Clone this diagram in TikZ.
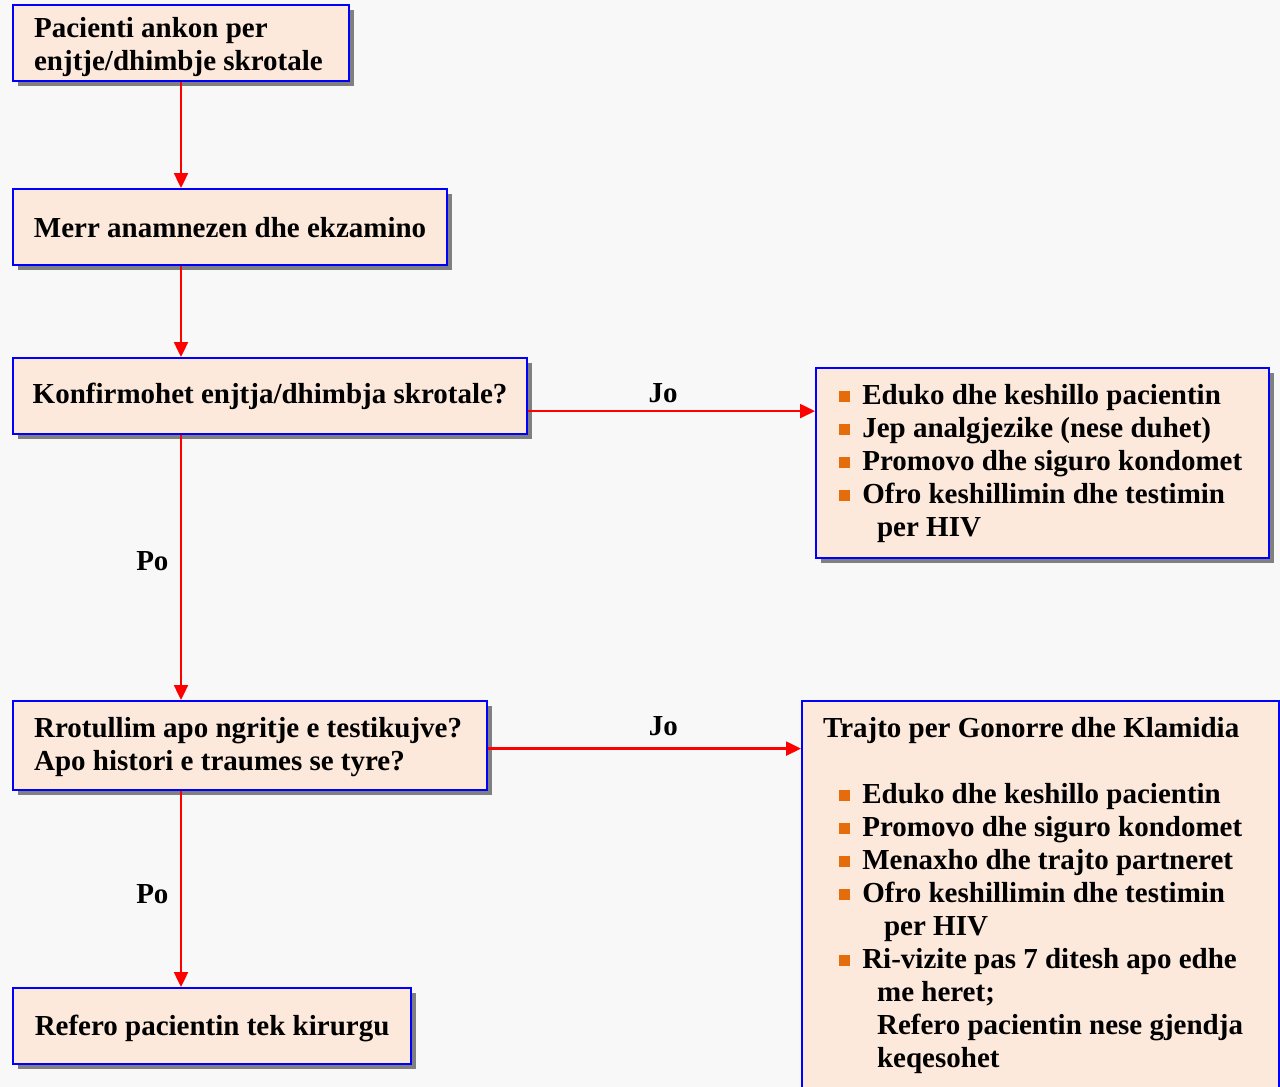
\documentclass[tikz,border=0pt]{standalone}
\usepackage{fontspec}
\setmainfont{Liberation Serif}
\usetikzlibrary{arrows.meta,shadows}
\definecolor{peach}{HTML}{FCE9DB}
\definecolor{bgray}{HTML}{F8F8F8}
\definecolor{bulorange}{HTML}{E46C0A}
\newcommand{\bul}{\textcolor{bulorange}{\rule[0.06em]{0.38em}{0.38em}}\hspace{0.42em}}

\tikzset{
  box/.style={draw=blue, line width=2.2pt, fill=peach, anchor=north west,
    drop shadow={shadow xshift=5pt, shadow yshift=-5pt, fill=gray, opacity=1},
    inner xsep=0pt, inner ysep=0pt, align=left,
    font=\fontsize{29}{33}\selectfont\bfseries},
  padbox/.style={inner xsep=21pt, align=flush left},
  arr/.style={red, line width=2.4pt, -{Triangle[length=15pt,width=14pt]}},
  lbl/.style={font=\fontsize{29}{33}\selectfont\bfseries, text=black},
}

\begin{document}
\begin{tikzpicture}[x=1pt, y=-1pt]
    \fill[bgray, use as bounding box] (0,0) rectangle (1280,1087);
    \coordinate (spine) at (181,0);

    % left column
    \node[box, padbox, text width=294pt, minimum height=76pt] (start) at (12,4)
        {\rule{0pt}{28pt}Pacienti ankon per\\enjtje/dhimbje skrotale};
    \node[box, minimum width=434pt, minimum height=76pt] (exam) at (12,188)
        {Merr anamnezen dhe ekzamino};
    \node[box, minimum width=514pt, minimum height=76pt] (confirm) at (12,357)
        {Konfirmohet enjtja/dhimbja skrotale?};
    \node[box, padbox, text width=432pt, minimum height=89pt] (torsion) at (12,700)
        {\rule{0pt}{24pt}Rrotullim apo ngritje e testikujve?\\Apo histori e traumes se tyre?};
    \node[box, minimum width=398pt, minimum height=76pt] (refer) at (12,987)
        {\rule{0pt}{26pt}Refero pacientin tek kirurgu};

    % right column
    \node[box, padbox, inner xsep=23pt, text width=407pt, minimum height=190pt] (advice) at (815,367)
        {\bul Eduko dhe keshillo pacientin\\
         \bul Jep analgjezike (nese duhet)\\
         \bul Promovo dhe siguro kondomet\\
         \bul Ofro keshillimin dhe testimin\\
         \hspace*{38pt}per HIV};
    \node[box, padbox, text width=435pt, inner ysep=16pt] (treat) at (801,700)
        {Trajto per Gonorre dhe Klamidia\\[33pt]
         \hspace*{16pt}\bul Eduko dhe keshillo pacientin\\
         \hspace*{16pt}\bul Promovo dhe siguro kondomet\\
         \hspace*{16pt}\bul Menaxho dhe trajto partneret\\
         \hspace*{16pt}\bul Ofro keshillimin dhe testimin\\
         \hspace*{61pt}per HIV\\
         \hspace*{16pt}\bul Ri-vizite pas 7 ditesh apo edhe\\
         \hspace*{54pt}me heret;\\
         \hspace*{54pt}Refero pacientin nese gjendja\\
         \hspace*{54pt}keqesohet\\ ~};

    % connectors
    \draw[arr] (start.south -| spine) -- (exam.north -| spine);
    \draw[arr] (exam.south -| spine) -- (confirm.north -| spine);
    \draw[arr] (confirm.south -| spine) -- node[lbl, pos=0.476, left=8pt] (po1) {Po} (torsion.north -| spine);
    \draw[arr] (torsion.south -| spine) -- node[lbl, pos=0.525, left=8pt] (po2) {Po} (refer.north -| spine);
    \draw[arr] ([yshift=-15pt]confirm.east) -- node[lbl, pos=0.47, above=4pt] (jo1) {Jo}
        ([yshift=-15pt]confirm.east -| advice.west);
    \draw[arr] ([yshift=-3pt]torsion.east) -- node[lbl, pos=0.56, above=8pt] (jo2) {Jo}
        ([yshift=-3pt]torsion.east -| treat.west);
\end{tikzpicture}
\end{document}
